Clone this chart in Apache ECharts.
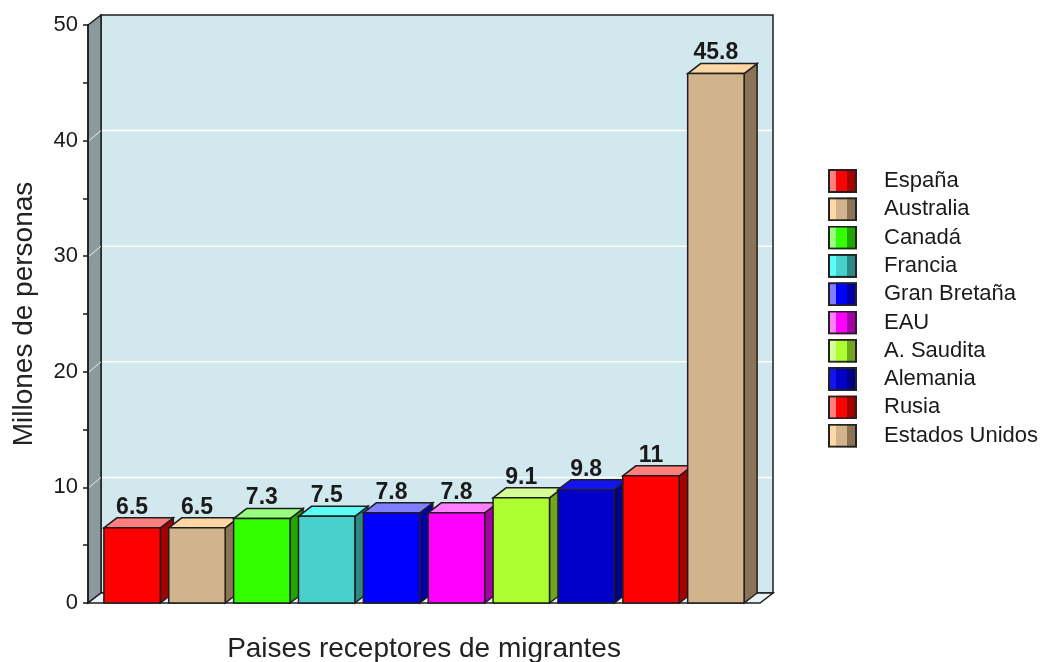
<!DOCTYPE html>
<html>
<head>
<meta charset="utf-8">
<script src="https://cdn.jsdelivr.net/npm/echarts@6/dist/echarts.min.js"></script>
<style>
  html, body { margin: 0; padding: 0; background: #ffffff; }
  #chart { width: 1049px; height: 662px; }
</style>
</head>
<body>
<div id="chart"></div>
<script>
// Migrant-receiving countries, millions of people
const countries = ['España', 'Australia', 'Canadá', 'Francia', 'Gran Bretaña', 'EAU', 'A. Saudita', 'Alemania', 'Rusia', 'Estados Unidos'];
const values = [6.5, 6.5, 7.3, 7.5, 7.8, 7.8, 9.1, 9.8, 11, 45.8];
const yTicks = [0, 10, 20, 30, 40, 50];

// Face shades of each box: lit top, front, shaded side
const frontColors = ['#ff0000', '#d2b48c', '#33ff00', '#48d1cc', '#0000ff', '#ff00ff', '#adff2f', '#0000c8', '#ff0000', '#d2b48c'];
const topColors   = ['#ff7f7f', '#ffd7a4', '#99ff7f', '#5afff8', '#7f7fff', '#ff7fff', '#d4ff96', '#1414ee', '#ff7f7f', '#ffd7a4'];
const sideColors  = ['#a50000', '#8b7355', '#21a600', '#2e8884', '#0000a5', '#a500a5', '#70a61e', '#000085', '#a50000', '#8b7355'];

const FONT = '"Liberation Sans", Arial, sans-serif';
const INK = '#1a1a1a';
const EDGE = '#1e1e1e';
const DX = 13;      // depth offset to the right (px)
const DY = 10;      // depth offset upwards (px)
const BAR_W = 0.87; // front face width in category units
const X_MIN = -0.68, X_MAX = 9.68;
const Y_MIN = yTicks[0], Y_MAX = yTicks[yTicks.length - 1];

function legendIcon(i) {
  const svg = '<svg xmlns="http://www.w3.org/2000/svg" width="29" height="24">' +
    '<rect x="0" y="0" width="8" height="24" fill="' + topColors[i] + '"/>' +
    '<rect x="8" y="0" width="11" height="24" fill="' + frontColors[i] + '"/>' +
    '<rect x="19" y="0" width="10" height="24" fill="' + sideColors[i] + '"/>' +
    '<rect x="1" y="1" width="27" height="22" fill="none" stroke="#222" stroke-width="2"/></svg>';
  return 'image://data:image/svg+xml;charset=utf-8,' + encodeURIComponent(svg);
}

// Box frame: left wall, back wall, floor and grid lines
function renderFrame(params, api) {
  const cs = params.coordSys;
  const L = cs.x, R = cs.x + cs.width, T = cs.y, B = cs.y + cs.height;
  const children = [
    { type: 'rect', shape: { x: L + DX, y: T - DY, width: R - L, height: B - T },
      style: { fill: '#d2e8ef', stroke: EDGE, lineWidth: 1.5 } },
    { type: 'polygon', shape: { points: [[L, B], [L, T], [L + DX, T - DY], [L + DX, B - DY]] },
      style: { fill: '#8b9a9d', stroke: EDGE, lineWidth: 1.5 } },
    { type: 'polygon', shape: { points: [[L, B], [R, B], [R + DX, B - DY], [L + DX, B - DY]] },
      style: { fill: '#e8f4f8', stroke: EDGE, lineWidth: 1.5 } }
  ];
  yTicks.forEach(function (v) {
    if (v <= Y_MIN || v >= Y_MAX) return;
    const y = api.coord([X_MIN, v])[1];
    children.push({ type: 'line', shape: { x1: L + DX + 1, y1: y - DY, x2: R + DX - 1, y2: y - DY },
      style: { stroke: '#ffffff', lineWidth: 1.5 } });
    children.push({ type: 'line', shape: { x1: L + 1, y1: y, x2: L + DX, y2: y - DY },
      style: { stroke: '#e4ecee', lineWidth: 1 } });
  });
  return { type: 'group', children: children };
}

// One 3D box per country with its value above it
function renderBar(i) {
  return function (params, api) {
    const top = api.coord([api.value(0), api.value(1)]);
    const base = api.coord([api.value(0), 0]);
    const w = api.size([BAR_W, 0])[0];
    const x0 = top[0] - w / 2, x1 = top[0] + w / 2, yt = top[1], yb = base[1];
    return {
      type: 'group',
      children: [
        { type: 'polygon', shape: { points: [[x1, yt], [x1 + DX, yt - DY], [x1 + DX, yb - DY], [x1, yb]] },
          style: { fill: sideColors[i], stroke: EDGE, lineWidth: 1.5 } },
        { type: 'polygon', shape: { points: [[x0, yt], [x0 + DX, yt - DY], [x1 + DX, yt - DY], [x1, yt]] },
          style: { fill: topColors[i], stroke: EDGE, lineWidth: 1.5 } },
        { type: 'rect', shape: { x: x0, y: yt, width: w, height: yb - yt },
          style: { fill: frontColors[i], stroke: EDGE, lineWidth: 1.5 } },
        { type: 'text', x: top[0], y: yt - 9,
          style: { text: String(api.value(1)), fill: INK, font: 'bold 23px ' + FONT,
                   align: 'center', verticalAlign: 'bottom' } }
      ]
    };
  };
}

const series = [{
  type: 'custom', name: 'frame', z: 1, silent: true,
  data: [[0, 0]], renderItem: renderFrame
}];
countries.forEach(function (name, i) {
  series.push({
    type: 'custom', name: name, z: 2, silent: true,
    data: [[i, values[i]]], renderItem: renderBar(i)
  });
});

const chart = echarts.init(document.getElementById('chart'), null, { renderer: 'canvas' });
chart.setOption({
  animation: false,
  backgroundColor: '#ffffff',
  grid: { left: 88, right: 289, top: 25, bottom: 59, containLabel: false, outerBoundsMode: 'none' },
  legend: {
    orient: 'vertical', left: 823, top: 164,
    itemWidth: 29, itemHeight: 24, itemGap: 4.3,
    selectedMode: false,
    textStyle: { fontSize: 22, color: INK, fontFamily: FONT, padding: [0, 0, 0, 22] },
    data: countries.map(function (name, i) { return { name: name, icon: legendIcon(i) }; })
  },
  xAxis: {
    type: 'value', min: X_MIN, max: X_MAX,
    name: 'Paises receptores de migrantes', nameLocation: 'middle', nameGap: 32,
    nameTextStyle: { fontSize: 28, color: '#222', fontFamily: FONT },
    axisLine: { show: false }, axisTick: { show: false },
    axisLabel: { show: false }, splitLine: { show: false }
  },
  yAxis: {
    type: 'value', min: Y_MIN, max: Y_MAX, interval: 10, z: 10,
    name: 'Millones de personas', nameLocation: 'middle', nameGap: 50,
    nameTextStyle: { fontSize: 28, color: '#222', fontFamily: FONT },
    axisLine: { show: true, onZero: false, lineStyle: { color: INK, width: 1.5 } },
    axisTick: { show: true, length: 5, lineStyle: { color: INK, width: 1.5 } },
    minorTick: { show: true, splitNumber: 2, length: 5, lineStyle: { color: INK, width: 1.5 } },
    axisLabel: { fontSize: 22, color: INK, fontFamily: FONT, margin: 10 },
    splitLine: { show: false }
  },
  series: series
});
</script>
</body>
</html>
